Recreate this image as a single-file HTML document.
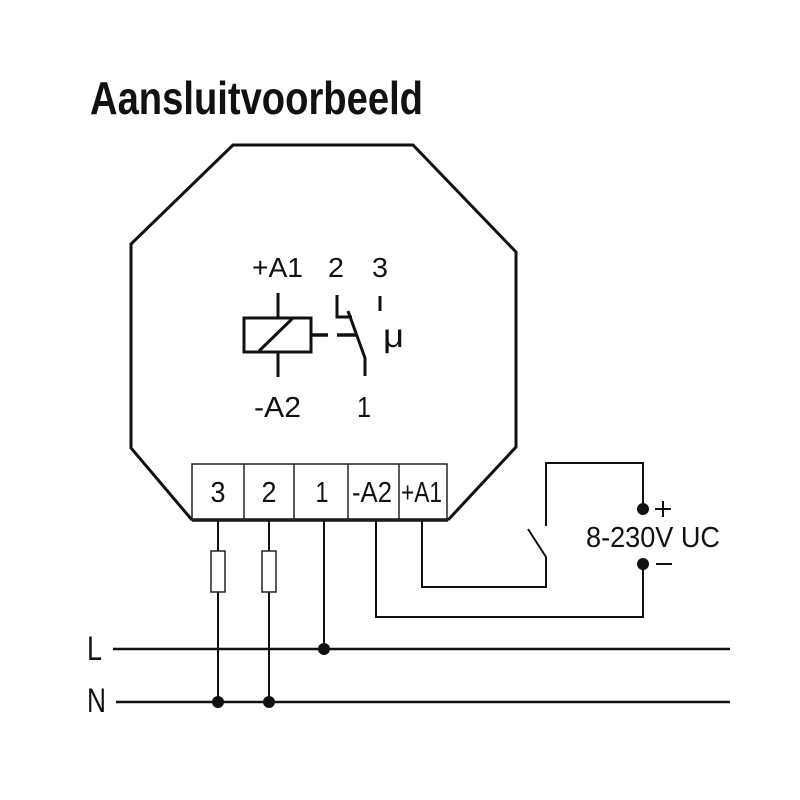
<!DOCTYPE html>
<html><head><meta charset="utf-8"><style>
html,body{margin:0;padding:0;background:#fff;}
svg{display:block;}
text{font-family:"Liberation Sans",Arial,sans-serif;fill:#111;}
</style></head><body>
<svg width="800" height="800" viewBox="0 0 800 800" xmlns="http://www.w3.org/2000/svg">
<rect width="800" height="800" fill="#fff"/>
<text x="90" y="114" font-size="46" font-weight="bold" textLength="333" lengthAdjust="spacingAndGlyphs">Aansluitvoorbeeld</text>

<!-- octagon -->
<polyline points="192,520 131,448 131,244 233,145 413,145 516,252 516,447 448,520" fill="none" stroke="#111" stroke-width="3" stroke-linejoin="miter"/>
<line x1="192" y1="520" x2="448" y2="520" stroke="#111" stroke-width="3.5"/>

<!-- terminal block -->
<g fill="none" stroke="#222" stroke-width="1.5">
<rect x="192" y="464" width="255" height="56"/>
<line x1="244" y1="464" x2="244" y2="520"/>
<line x1="294" y1="464" x2="294" y2="520"/>
<line x1="348" y1="464" x2="348" y2="520"/>
<line x1="399" y1="464" x2="399" y2="520"/>
</g>
<g font-size="29">
<text x="218" y="502" text-anchor="middle" textLength="15" lengthAdjust="spacingAndGlyphs">3</text>
<text x="269" y="502" text-anchor="middle" textLength="15" lengthAdjust="spacingAndGlyphs">2</text>
<text x="322" y="502" text-anchor="middle" textLength="13" lengthAdjust="spacingAndGlyphs">1</text>
<text x="352" y="502" textLength="40" lengthAdjust="spacingAndGlyphs">-A2</text>
<text x="401" y="502" textLength="41" lengthAdjust="spacingAndGlyphs">+A1</text>
</g>

<!-- relay symbol -->
<g font-size="28">
<text x="252" y="277" textLength="51" lengthAdjust="spacingAndGlyphs">+A1</text>
<text x="336" y="277" text-anchor="middle" textLength="16" lengthAdjust="spacingAndGlyphs">2</text>
<text x="380" y="277" text-anchor="middle" textLength="16" lengthAdjust="spacingAndGlyphs">3</text>
<text x="254" y="417" font-size="29" textLength="47" lengthAdjust="spacingAndGlyphs">-A2</text>
<text x="364" y="417" font-size="29" text-anchor="middle" textLength="14" lengthAdjust="spacingAndGlyphs">1</text>
</g>
<text x="383" y="347" font-size="33" textLength="21" lengthAdjust="spacingAndGlyphs">μ</text>
<g fill="none" stroke="#111" stroke-width="3">
<rect x="244" y="318" width="67" height="34"/>
<line x1="259" y1="351" x2="293" y2="318"/>
<line x1="278" y1="293" x2="278" y2="318"/>
<line x1="278" y1="352" x2="278" y2="377"/>
<line x1="311" y1="335" x2="328" y2="335" stroke-width="3.5"/>
<line x1="337" y1="335" x2="356" y2="335" stroke-width="3.5"/>
<polyline points="337,295 337,317 352,317"/>
<polyline points="348,311 365,358 365,376"/>
<line x1="380" y1="296" x2="380" y2="311"/>
</g>

<!-- wires -->
<g fill="none" stroke="#111" stroke-width="2">
<line x1="218" y1="520" x2="218" y2="551"/>
<line x1="218" y1="592" x2="218" y2="702"/>
<line x1="269" y1="520" x2="269" y2="551"/>
<line x1="269" y1="592" x2="269" y2="702"/>
<line x1="324" y1="520" x2="324" y2="649"/>
<polyline points="376,520 376,617 643,617 643,564"/>
<polyline points="422,520 422,587 546,587 546,557 528,529"/>
<polyline points="546,526 546,463 643,463 643,509"/>
</g>
<g fill="#fff" stroke="#222" stroke-width="1.5">
<rect x="211" y="551" width="14" height="41"/>
<rect x="262" y="551" width="14" height="41"/>
</g>

<!-- L / N -->
<g stroke="#111" stroke-width="2.5">
<line x1="113" y1="649" x2="730" y2="649"/>
<line x1="116" y1="702" x2="730" y2="702"/>
</g>
<g fill="#111">
<circle cx="324" cy="649" r="6"/>
<circle cx="218" cy="702" r="6"/>
<circle cx="269" cy="702" r="6"/>
<circle cx="643" cy="509" r="6"/>
<circle cx="643" cy="564" r="6"/>
</g>
<text x="87" y="660" font-size="34" textLength="15" lengthAdjust="spacingAndGlyphs">L</text>
<text x="87" y="712" font-size="34" textLength="19" lengthAdjust="spacingAndGlyphs">N</text>

<!-- supply -->
<g stroke="#111" stroke-width="2">
<line x1="655" y1="509" x2="671" y2="509"/>
<line x1="663" y1="501" x2="663" y2="517"/>
<line x1="656" y1="564" x2="672" y2="564"/>
</g>
<text x="586" y="547" font-size="29" textLength="134" lengthAdjust="spacingAndGlyphs">8-230V UC</text>
</svg>
</body></html>
